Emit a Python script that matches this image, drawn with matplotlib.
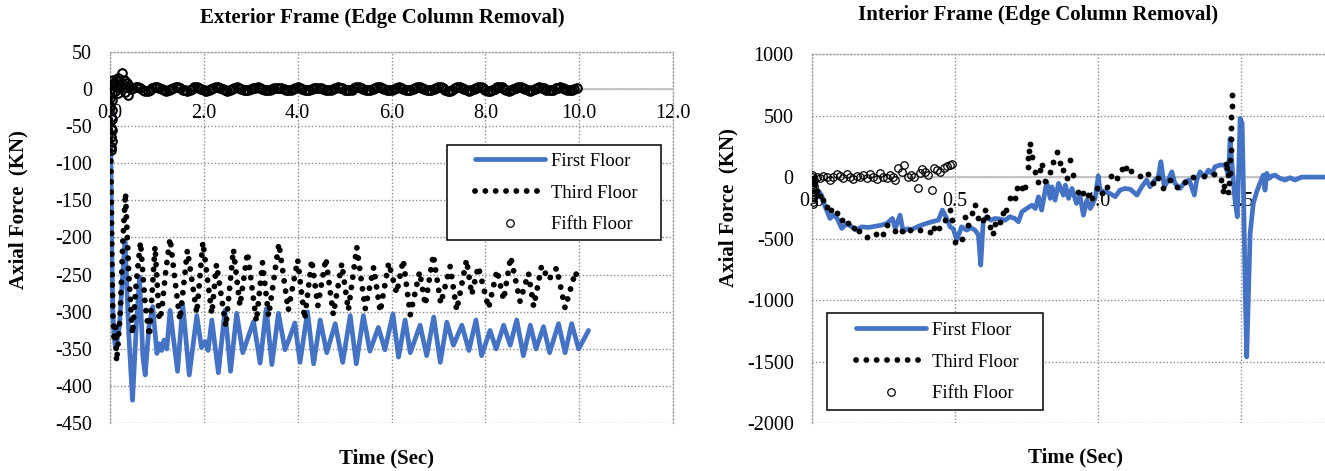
import matplotlib
matplotlib.use("Agg")
import matplotlib.pyplot as plt
from matplotlib.lines import Line2D
from matplotlib.patches import Rectangle
from matplotlib.ticker import FormatStrFormatter

plt.rcParams['font.family'] = ['Liberation Serif', 'DejaVu Serif']
plt.rcParams['axes.unicode_minus'] = False

# ---------------- Exterior frame (edge column removal) ----------------
ext_first_t = [0.00, 0.02, 0.04, 0.06, 0.09, 0.12, 0.16, 0.20, 0.26, 0.32,
               0.40, 0.48, 0.56, 0.63, 0.70, 0.75, 0.83, 0.91, 1.00, 1.05,
               1.10, 1.15, 1.21, 1.28, 1.36, 1.44, 1.55, 1.69, 1.85, 1.95,
               2.03, 2.09, 2.17, 2.31, 2.45, 2.57, 2.70, 2.83, 2.94, 3.06,
               3.20, 3.33, 3.45, 3.59, 3.73, 3.84, 3.94, 4.05, 4.21, 4.34,
               4.48, 4.62, 4.80, 4.96, 5.12, 5.25, 5.40, 5.54, 5.72, 5.86,
               6.03, 6.15, 6.29, 6.40, 6.61, 6.75, 6.90, 7.04, 7.18, 7.32,
               7.50, 7.65, 7.80, 7.92, 8.10, 8.23, 8.39, 8.53, 8.67, 8.81,
               8.96, 9.08, 9.24, 9.37, 9.56, 9.70, 9.84, 9.99, 10.20]
ext_first_v = [0, -90, -220, -300, -335, -350, -335, -320, -260, -205,
               -330, -419, -320, -253, -360, -385, -320, -293, -356, -343,
               -352, -338, -350, -298, -340, -380, -290, -385, -305, -348,
               -340, -352, -311, -382, -298, -380, -302, -355, -335, -313,
               -369, -296, -371, -302, -351, -333, -315, -368, -300, -370,
               -311, -355, -316, -368, -305, -370, -305, -353, -321, -351,
               -303, -361, -311, -355, -318, -359, -307, -368, -314, -345,
               -318, -352, -311, -359, -325, -350, -318, -345, -311, -359,
               -318, -350, -320, -355, -316, -355, -316, -350, -325]

ext_third_t = [0.00, 0.02, 0.04, 0.06, 0.09, 0.12, 0.14, 0.17, 0.22, 0.27,
               0.33, 0.40, 0.48, 0.56, 0.65, 0.75, 0.84, 0.96, 1.05, 1.10,
               1.18, 1.28, 1.38, 1.49, 1.65, 1.85, 1.98, 2.17, 2.27, 2.47,
               2.63, 2.77, 2.93, 3.12, 3.25, 3.38, 3.60, 3.80, 4.00, 4.15,
               4.30, 4.43, 4.60, 4.76, 4.94, 5.08, 5.26, 5.44, 5.62, 5.76,
               5.94, 6.11, 6.25, 6.40, 6.60, 6.72, 6.89, 7.05, 7.25, 7.39,
               7.60, 7.71, 7.85, 8.07, 8.25, 8.39, 8.54, 8.74, 8.92, 9.03,
               9.20, 9.35, 9.52, 9.70, 9.92, 10.00]
ext_third_v = [0, -100, -230, -300, -340, -320, -367, -345, -300, -210,
               -140, -250, -330, -260, -206, -290, -333, -212, -311, -300,
               -250, -201, -255, -311, -217, -302, -206, -303, -236, -320,
               -216, -292, -220, -313, -234, -306, -208, -298, -230, -310,
               -230, -292, -228, -304, -235, -298, -213, -296, -240, -300,
               -234, -275, -230, -304, -246, -291, -223, -289, -239, -298,
               -230, -277, -239, -295, -244, -284, -226, -286, -248, -293,
               -238, -257, -241, -295, -246, -262]

ext_fifth_t = [0.000, 0.004, 0.008, 0.012, 0.016, 0.020, 0.024, 0.028, 0.032, 0.036,
               0.040, 0.044, 0.048, 0.052, 0.056, 0.060, 0.08, 0.10, 0.12, 0.14,
               0.16, 0.18, 0.20, 0.22, 0.25, 0.27, 0.29, 0.31, 0.33, 0.35,
               0.37, 0.39, 0.41,
               0.45, 0.50, 0.55, 0.60, 0.65, 0.70, 0.75, 0.80, 0.85, 0.90,
               0.95, 1.00, 1.05, 1.10, 1.15, 1.20, 1.25, 1.30, 1.35, 1.40,
               1.45, 1.50, 1.55, 1.60, 1.65, 1.70, 1.75, 1.80, 1.85, 1.90,
               1.95, 2.00, 2.05, 2.10, 2.15, 2.20, 2.25, 2.30, 2.35, 2.40,
               2.45, 2.50, 2.55, 2.60, 2.65, 2.70, 2.75, 2.80, 2.85, 2.90,
               2.95, 3.00, 3.05, 3.10, 3.15, 3.20, 3.25, 3.30, 3.35, 3.40,
               3.45, 3.50, 3.55, 3.60, 3.65, 3.70, 3.75, 3.80, 3.85, 3.90,
               3.95, 4.00, 4.05, 4.10, 4.15, 4.20, 4.25, 4.30, 4.35, 4.40,
               4.45, 4.50, 4.55, 4.60, 4.65, 4.70, 4.75, 4.80, 4.85, 4.90,
               4.95, 5.00, 5.05, 5.10, 5.15, 5.20, 5.25, 5.30, 5.35, 5.40,
               5.45, 5.50, 5.55, 5.60, 5.65, 5.70, 5.75, 5.80, 5.85, 5.90,
               5.95, 6.00, 6.05, 6.10, 6.15, 6.20, 6.25, 6.30, 6.35, 6.40,
               6.45, 6.50, 6.55, 6.60, 6.65, 6.70, 6.75, 6.80, 6.85, 6.90,
               6.95, 7.00, 7.05, 7.10, 7.15, 7.20, 7.25, 7.30, 7.35, 7.40,
               7.45, 7.50, 7.55, 7.60, 7.65, 7.70, 7.75, 7.80, 7.85, 7.90,
               7.95, 8.00, 8.05, 8.10, 8.15, 8.20, 8.25, 8.30, 8.35, 8.40,
               8.45, 8.50, 8.55, 8.60, 8.65, 8.70, 8.75, 8.80, 8.85, 8.90,
               8.95, 9.00, 9.05, 9.10, 9.15, 9.20, 9.25, 9.30, 9.35, 9.40,
               9.45, 9.50, 9.55, 9.60, 9.65, 9.70, 9.75, 9.80, 9.85, 9.90,
               9.95]
ext_fifth_v = [0, -12, -25, -38, -52, -65, -78, -82, -70, -55,
               -40, -28, -15, -5, 5, 12, 8, -3, 12, 2,
               14, -6, 10, 4, 22, 6, 12, -4, 10, 3,
               8, -8, 4,
               0, 1.7, 2.5, 2.0, 0.5, -1.2, -2.4, -2.3, -1.1, 0.7,
               2.1, 2.5, 1.5, -0.2, -1.8, -2.5, -1.9, -0.4, 1.4, 2.4,
               2.2, 0.9, -0.9, -2.2, -2.4, -1.4, 0.4, 1.9, 2.5, 1.8,
               0.2, -1.5, -2.5, -2.1, -0.7, 1.1, 2.3, 2.4, 1.2, -0.5,
               -2.0, -2.5, -1.7, 0, 1.3, 1.9, 1.5, 0.4, -0.9, -1.8,
               -1.7, -0.8, 0.5, 1.6, 1.9, 1.2, -0.1, -1.4, -1.9, -1.5,
               -0.3, 1.0, 1.8, 1.7, 0.7, -0.7, -1.7, -1.8, -1.0, 0.3,
               1.5, 1.9, 1.4, 0.1, -1.2, -1.9, -1.6, -0.5, 0.8, 1.7,
               1.8, 0.9, -0.4, -1.5, -1.9, -1.3, 0, 1.5, 2.2, 1.8,
               0.5, -1.1, -2.1, -2.0, -0.9, 0.6, 1.9, 2.2, 1.3, -0.2,
               -1.6, -2.2, -1.7, -0.3, 1.2, 2.1, 2.0, 0.8, -0.8, -2.0,
               -2.1, -1.2, 0.3, 1.7, 2.2, 1.6, 0.2, -1.3, -2.2, -1.9,
               -0.6, 0.9, 2.0, 2.1, 1.1, -0.5, -1.8, -2.2, -1.5, 0,
               1.7, 2.6, 2.1, 0.6, -1.3, -2.5, -2.4, -1.1, 0.7, 2.2,
               2.6, 1.6, -0.2, -1.9, -2.6, -2.0, -0.4, 1.4, 2.5, 2.3,
               0.9, -0.9, -2.3, -2.5, -1.4, 0.4, 2.0, 2.6, 1.9, 0.2,
               -1.6, -2.6, -2.2, -0.7, 1.1, 2.4, 2.5, 1.3, -0.6, -2.1,
               -2.6, -1.7, 0, 1.4, 2.1, 1.7, 0.5, -1.0, -2.0, -1.9,
               -0.9, 0.6, 1.8, 2.1, 1.3, -0.2, -1.5, -2.1, -1.6, -0.3,
               1.2]

# ---------------- Interior frame (edge column removal) ----------------
int_first_t = [0.005, 0.015, 0.025, 0.035, 0.047, 0.064, 0.075, 0.088, 0.105, 0.122,
               0.140, 0.157, 0.175, 0.198, 0.221, 0.245, 0.262, 0.282, 0.292, 0.309,
               0.320, 0.333, 0.350, 0.373, 0.396, 0.420, 0.443, 0.457, 0.472, 0.484,
               0.495, 0.507, 0.524, 0.542, 0.556, 0.571, 0.583, 0.591, 0.600, 0.612,
               0.626, 0.641, 0.658, 0.676, 0.693, 0.710, 0.723, 0.735, 0.752, 0.770,
               0.782, 0.793, 0.804, 0.822, 0.834, 0.840, 0.851, 0.863, 0.880, 0.887,
               0.898, 0.910, 0.926, 0.938, 0.950, 0.962, 0.974, 0.991, 1.002, 1.008,
               1.025, 1.043, 1.061, 1.078, 1.096, 1.115, 1.137, 1.154, 1.171, 1.183,
               1.200, 1.212, 1.221, 1.233, 1.245, 1.259, 1.270, 1.288, 1.305, 1.320,
               1.338, 1.346, 1.358, 1.373, 1.387, 1.399, 1.410, 1.428, 1.445, 1.457,
               1.463, 1.471, 1.480, 1.488, 1.494, 1.498, 1.505, 1.510, 1.516, 1.521,
               1.527, 1.533, 1.544, 1.556, 1.567, 1.579, 1.585, 1.591, 1.600, 1.610,
               1.620, 1.637, 1.655, 1.672, 1.690, 1.713, 1.748, 1.795, 1.850, 1.950]
int_first_v = [-110, -130, -115, -150, -241, -336, -310, -330, -417, -377,
               -404, -431, -404, -409, -400, -390, -377, -336, -417, -309,
               -444, -420, -425, -400, -380, -363, -350, -268, -336, -404,
               -420, -512, -404, -431, -410, -431, -471, -715, -350, -322,
               -350, -336, -340, -350, -322, -336, -363, -282, -255, -228,
               -255, -160, -268, -38, -173, -79, -187, -51, -146, -65,
               -173, -92, -214, -150, -309, -187, -255, -173, 10, -106,
               -119, -133, -160, -106, -92, -100, -146, -79, -24, -79,
               -24, 0, 125, -79, -30, 43, -51, -92, -38, -24,
               -146, -24, 43, 0, 57, 30, 84, 98, 98, 16,
               314, 57, -187, -322, 138, 477, 436, -133, -946, -1461,
               -946, -458, -214, -119, -51, 16, -106, 30, -10, 10,
               16, -10, -24, -5, -24, 0, 0, 0, 0, 0]

int_third_t = [0.005, 0.012, 0.020, 0.030, 0.040, 0.052, 0.068, 0.087, 0.107, 0.128,
               0.148, 0.167, 0.192, 0.224, 0.250, 0.265, 0.290, 0.315, 0.345, 0.379,
               0.414, 0.428, 0.445, 0.466, 0.484, 0.490, 0.501, 0.524, 0.536, 0.548,
               0.560, 0.571, 0.583, 0.600, 0.606, 0.614, 0.623, 0.633, 0.641, 0.658,
               0.668, 0.680, 0.693, 0.710, 0.717, 0.735, 0.745, 0.755, 0.758, 0.760,
               0.763, 0.769, 0.780, 0.793, 0.799, 0.805, 0.816, 0.833, 0.845, 0.857,
               0.868, 0.880, 0.892, 0.904, 0.915, 0.932, 0.950, 0.967, 0.979, 0.997,
               1.014, 1.032, 1.047, 1.066, 1.084, 1.100, 1.117, 1.148, 1.175, 1.195,
               1.212, 1.230, 1.253, 1.276, 1.305, 1.334, 1.370, 1.405, 1.431, 1.437,
               1.442, 1.449, 1.453, 1.457, 1.459, 1.457, 1.463, 1.463, 1.465, 1.466,
               1.466, 1.467, 1.468, 1.468]
int_third_v = [-30, -60, -110, -150, -190, -240, -270, -290, -350, -375,
               -417, -440, -485, -466, -466, -393, -439, -440, -430, -431,
               -444, -417, -410, -350, -268, -350, -526, -499, -322, -390,
               -295, -228, -330, -350, -268, -322, -404, -458, -380, -363,
               -295, -265, -173, -173, -92, -92, -79, 84, 152, 214,
               268, 165, 43, -38, 57, 98, -33, 43, 125, 206,
               111, 57, -11, 138, 16, -119, -133, -146, -173, -92,
               -133, -79, 8, -5, 65, 70, 49, 11, 22, -51,
               -11, -87, -24, -79, -38, -3, 11, 22, -24, -114,
               -73, 106, 70, 16, -51, -119, 35, 138, 220, 309,
               398, 490, 580, 669]

int_fifth_t = [0.000, 0.001, 0.001, 0.002, 0.002, 0.002, 0.003, 0.003, 0.003, 0.004,
               0.004, 0.004, 0.005, 0.006, 0.007, 0.008, 0.017, 0.029, 0.041, 0.052,
               0.064, 0.075, 0.087, 0.099, 0.111, 0.122, 0.134, 0.146, 0.157, 0.169,
               0.181, 0.192, 0.204, 0.216, 0.227, 0.239, 0.250, 0.262, 0.274, 0.285,
               0.291, 0.303, 0.315, 0.324, 0.335, 0.347, 0.359, 0.371, 0.379, 0.385,
               0.396, 0.408, 0.420, 0.426, 0.437, 0.449, 0.461, 0.472, 0.484, 0.490]
int_fifth_v = [20, 0, -20, -40, -60, -80, -100, -120, -140, -160,
               -180, -200, -215, -150, -80, -20, 3, -11, 8, 3,
               -24, 3, 24, 8, -11, 22, 3, -19, 8, -3,
               16, -11, 22, 3, -19, 30, 3, -11, 16, 0,
               -24, 70, 43, 98, 3, 16, 3, -92, 30, 62,
               43, 16, -106, 70, 57, 43, 70, 89, 98, 106]

series_labels = ["First Floor", "Third Floor", "Fifth Floor"]
ext_xticks = [0, 2, 4, 6, 8, 10, 12]
ext_yticks = [50, 0, -50, -100, -150, -200, -250, -300, -350, -400, -450]
int_xticks = [0.0, 0.5, 1.0, 1.5]
int_yticks = [1000, 500, 0, -500, -1000, -1500, -2000]

# ---------------- styles ----------------
W, H = 1325, 471
BLUE = '#4472C4'
first_style = dict(color=BLUE, lw=3.4, solid_joinstyle='round', solid_capstyle='round')
third_line_style = dict(color='black', lw=4.2, linestyle=(0, (0.01, 1.76)),
                        dash_capstyle='round')
third_dot_style = dict(color='black', linestyle='none', marker='o', ms=4.2, mew=0)
ext_fifth_style = dict(linestyle='none', marker='o', ms=6.2, mfc='none', mec='black', mew=1.5)
int_fifth_style = dict(linestyle='none', marker='o', ms=5.4, mfc='none', mec='black', mew=0.9)


def fx(px):
    return px / W


def fy(py):
    return 1 - py / H


fig = plt.figure(figsize=(W / 100, H / 100), dpi=100)


def style_axes(ax, xlim, ylim, xticks, yticks):
    ax.set_xlim(xlim)
    ax.set_ylim(ylim)
    ax.set_xticks(xticks)
    ax.set_yticks(yticks)
    ax.xaxis.set_major_formatter(FormatStrFormatter('%.1f'))
    ax.set_axisbelow(True)
    ax.grid(True, color='#8c8c8c', linestyle=(0, (1, 1.5)), linewidth=1.0)
    for s in ('left', 'top', 'right'):
        ax.spines[s].set_linestyle((0, (1, 1.5)))
        ax.spines[s].set_color('#a6a6a6')
        ax.spines[s].set_linewidth(1.0)
        ax.spines[s].set_zorder(0.6)
    ax.spines['bottom'].set_position(('data', 0))
    ax.spines['bottom'].set_color('#c3c3c3')
    ax.spines['bottom'].set_linewidth(1.5)
    ax.spines['bottom'].set_zorder(0.6)
    ax.tick_params(length=0, labelsize=14.5, colors='black')
    ax.tick_params(axis='x', pad=11)
    ax.tick_params(axis='y', pad=13)


def add_legend(ax, handle_x, mid_y, box, fifth_style):
    handles = [Line2D([], [], **first_style),
               Line2D([], [], **third_line_style),
               Line2D([], [], **fifth_style)]
    ax.legend(handles, series_labels, loc='center left',
              bbox_to_anchor=(fx(handle_x), fy(mid_y)), bbox_transform=fig.transFigure,
              frameon=False, fontsize=13.4, handlelength=3.76, handletextpad=0.32,
              labelspacing=0.8, borderpad=0, borderaxespad=0, numpoints=1)
    x0, y0, x1, y1 = box
    frame = Rectangle((fx(x0), fy(y1)), fx(x1) - fx(x0), fy(y0) - fy(y1),
                      transform=fig.transFigure, facecolor='white', edgecolor='black',
                      lw=1.1, zorder=4, clip_on=False)
    ax.add_artist(frame)


# ---------------- exterior frame panel ----------------
ax1 = fig.add_axes([fx(110), fy(423.3), fx(673) - fx(110), fy(51.7) - fy(423.3)])
style_axes(ax1, (0, 12), (-450, 50), ext_xticks, ext_yticks)
ax1.plot(ext_first_t, ext_first_v, zorder=2, **first_style)
ax1.plot(ext_third_t, ext_third_v, zorder=2.1, **third_line_style)
ax1.plot(ext_fifth_t, ext_fifth_v, zorder=2.2, **ext_fifth_style)
add_legend(ax1, 475, 193, (446.5, 145, 661, 240), int_fifth_style)

# ---------------- interior frame panel ----------------
ax2 = fig.add_axes([fx(811.7), fy(423.3), fx(1383.7) - fx(811.7), fy(54) - fy(423.3)])
style_axes(ax2, (0, 2.0), (-2000, 1000), int_xticks, int_yticks)
ax2.plot(int_first_t, int_first_v, zorder=2, **first_style)
ax2.plot(int_third_t, int_third_v, zorder=2.1, **third_dot_style)
ax2.plot(int_fifth_t, int_fifth_v, zorder=2.2, **int_fifth_style)
add_legend(ax2, 856, 362, (827, 313, 1043, 410), int_fifth_style)

# ---------------- titles and axis labels ----------------
title_kw = dict(ha='center', va='center', fontsize=15, fontweight='bold')
fig.text(fx(382), fy(18), 'Exterior Frame (Edge Column Removal)', **title_kw)
fig.text(fx(1038), fy(15), 'Interior Frame (Edge Column Removal)', **title_kw)
fig.text(fx(18), fy(210), 'Axial Force  (KN)', rotation=90, **title_kw)
fig.text(fx(728), fy(208), 'Axial Force  (KN)', rotation=90, **title_kw)
fig.text(fx(386), fy(458), 'Time (Sec)', **title_kw)
fig.text(fx(1075), fy(457), 'Time (Sec)', **title_kw)

fig.savefig('out.png', dpi=100)
